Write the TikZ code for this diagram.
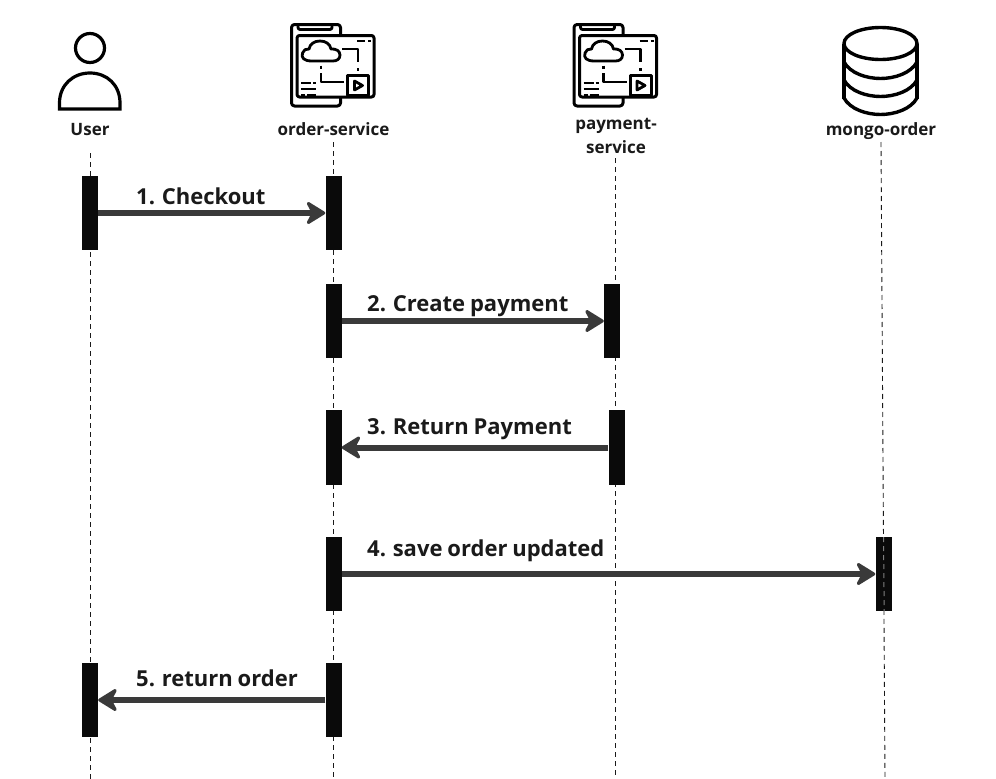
\documentclass[tikz,border=0pt]{standalone}
\usepackage{fontspec}
\setmainfont[WordSpace=0.85]{Open Sans}
\usetikzlibrary{arrows.meta}
\definecolor{ink}{HTML}{1A1A1A}
\definecolor{arrowgrey}{HTML}{3A3A3A}
\definecolor{barblack}{HTML}{0A0A0A}
\tikzset{
  actorlabel/.style={font=\fontsize{17}{24}\selectfont\bfseries,text=ink,inner sep=0pt,align=center,anchor=base},
  msglabel/.style={font=\fontsize{22}{26}\selectfont\bfseries,text=ink,inner sep=0pt,anchor=base west},
  bar/.style={fill=barblack,draw=none,minimum width=16pt,minimum height=74.5pt,inner sep=0pt},
  lifeline/.style={draw=ink,line width=0.9pt,dash pattern=on 5pt off 4pt},
  overbar/.style={draw=gray,line width=1pt,dash pattern=on 5pt off 4pt},
  msg/.style={draw=arrowgrey,line width=6pt,-{Stealth[length=22pt,width=27pt,inset=7pt,line width=3pt,round]}},
  iconline/.style={draw=black,line width=3pt,line cap=butt,line join=round},
  thinicon/.style={draw=black,line width=2.8pt,line cap=butt,line join=round},
  serviceicon/.pic={
    \draw[iconline,rounded corners=3pt] (291.5,24.5) rectangle (340.5,106);
    \draw[iconline,fill=white,rounded corners=2.5pt] (297,35.5) rectangle (374,97);
    \draw[thinicon,rounded corners=2pt] (298,24.5) -- (298,29.5) -- (332,29.5) -- (332,24.5);
    \draw[thinicon] (312,61) .. controls (304,61) and (301,58) .. (302.5,53)
       .. controls (303.5,50) and (306,48.5) .. (309,49)
       .. controls (310,44) and (314,41) .. (320,41)
       .. controls (326,41) and (330,44) .. (331,49)
       .. controls (336,48.5) and (340,51) .. (340,55)
       .. controls (340,59) and (337,61) .. (333,61) -- cycle;
    \draw[thinicon] (342,49) -- (358,49) -- (358,62);
    \draw[thinicon] (358,68) -- (358,71);
    \draw[thinicon] (321,65.5) -- (321,68.5);
    \draw[thinicon] (321,73) -- (321,82) -- (344,82);
    \draw[iconline] (347.5,75.5) rectangle (368.5,95.5);
    \draw[thinicon] (354.5,81) -- (354.5,90) -- (362.5,85.5) -- cycle;
    \draw[thinicon] (357,41) -- (365,41) (368,41) -- (371,41);
    \draw[thinicon] (301,83) -- (311,83) (313,83) -- (316,83);
    \draw[thinicon] (301,89) -- (316,89);
    \draw[thinicon] (301,95) -- (305,95) (307,95) -- (316,95);
  }
}
\begin{document}
\begin{tikzpicture}[x=1pt,y=-1pt]
\useasboundingbox[fill=white] (0,0) rectangle (996,779);

% lifelines
\coordinate (uT) at (90,153);  \coordinate (uB) at (90,779);
\coordinate (oT) at (333,142); \coordinate (oB) at (333,779);
\coordinate (pT) at (615,158); \coordinate (pB) at (615,779);
\coordinate (mT) at (881,142); \coordinate (mB) at (885,779);
\draw[lifeline] (uT) -- (uB);
\draw[lifeline] (oT) -- (oB);
\draw[lifeline] (pT) -- (pB);
\draw[lifeline] (mT) -- (mB);

% user icon
\draw[line width=3.2pt,draw=black] (90,48) circle (14.5);
\draw[line width=3.2pt,draw=black,line join=miter] (59.5,109) -- (59.5,103)
  .. controls (59.5,85) and (73,73) .. (90,73)
  .. controls (107,73) and (120,85) .. (120,103) -- (120,109) -- cycle;

% service icons
\pic at (0,0) {serviceicon};
\pic at (282.5,0) {serviceicon};

% database icon
\draw[line width=3.4pt,draw=black] (880.5,43.5) ellipse (36.5 and 16);
\draw[line width=3.4pt,draw=black] (844,43.5) -- (844,99) (917,43.5) -- (917,99);
\draw[line width=3.4pt,draw=black] (844,62) .. controls (850,73) and (866,78.5) .. (880.5,78.5) .. controls (895,78.5) and (911,73) .. (917,62);
\draw[line width=3.4pt,draw=black] (844,80) .. controls (850,91) and (866,96.5) .. (880.5,96.5) .. controls (895,96.5) and (911,91) .. (917,80);
\draw[line width=3.4pt,draw=black] (844,98) .. controls (850,109) and (866,114.5) .. (880.5,114.5) .. controls (895,114.5) and (911,109) .. (917,98);

% actor labels
\node[actorlabel] (lu) at (90,135) {User};
\node[actorlabel] (lo) at (333.5,135) {order-service};
\node[actorlabel,anchor=center] (lp) at (616,135.5) {payment-\\service};
\node[actorlabel] (lm) at (881,135) {mongo-order};

% activation bars
\node[bar] (u1) at (90,213) {};
\node[bar] (o1) at (333.5,213) {};
\node[bar] (o2) at (333.5,321) {};
\node[bar] (p2) at (612,321) {};
\node[bar] (o3) at (333.5,447.5) {};
\node[bar] (p3) at (616.5,447.5) {};
\node[bar] (o4) at (333.5,574) {};
\node[bar] (m4) at (883.5,574) {};
\node[bar] (o5) at (333.5,700) {};
\node[bar] (u5) at (90,700) {};

% lifeline showing through the mongo bar
\coordinate (mbT) at (883.5,537);
\coordinate (mbB) at (884.2,611);
\draw[overbar] (mbT) -- (mbB);

% messages
\draw[msg] (u1.east) -- (o1.west);
\draw[msg] (o2.east) -- (p2.west);
\draw[msg] (p3.west) -- (o3.east);
\draw[msg] (o4.east) -- (m4.west);
\draw[msg] (o5.west) -- (u5.east);

% message labels
\node[msglabel] (t1) at (136,204) {1. Checkout};
\node[msglabel] (t2) at (367,311) {2. Create payment};
\node[msglabel] (t3) at (367,434) {3. Return Payment};
\node[msglabel] (t4) at (367,556) {4. save order updated};
\node[msglabel] (t5) at (136,686) {5. return order};
\end{tikzpicture}
\end{document}
